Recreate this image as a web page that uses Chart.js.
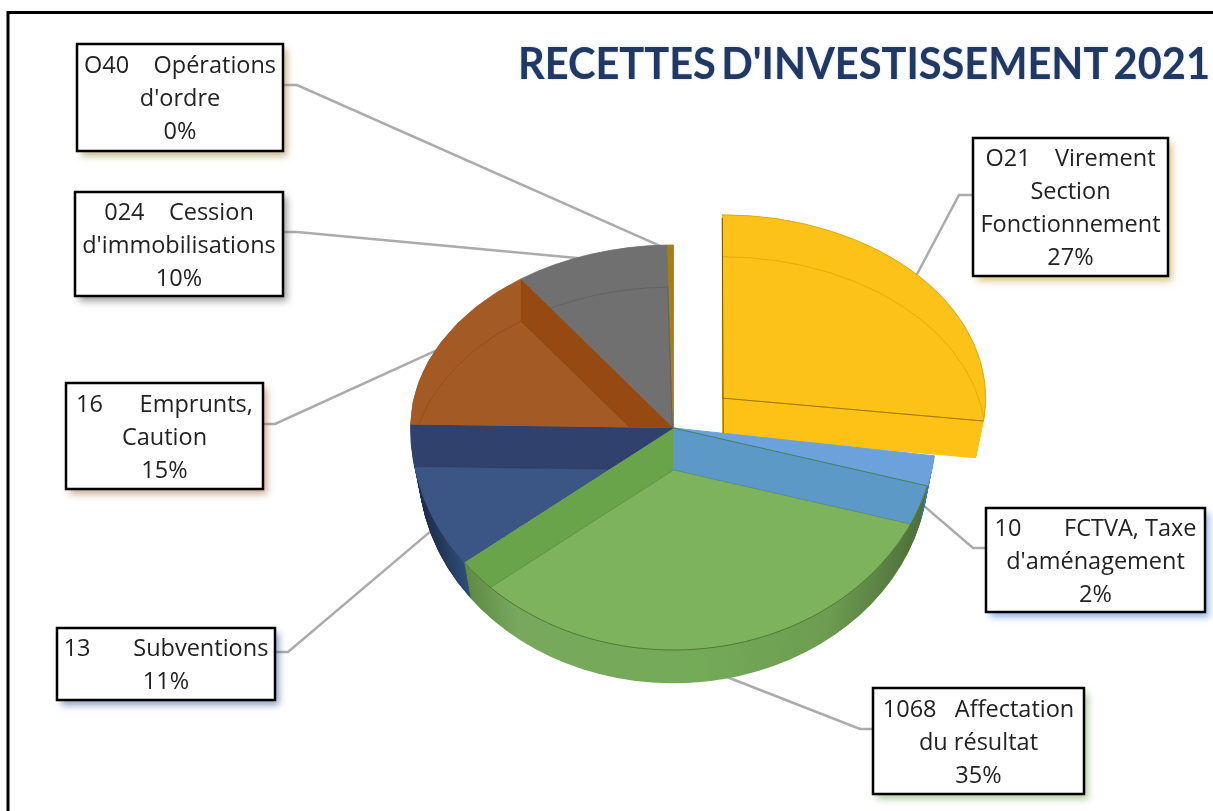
<!DOCTYPE html>
<html lang="fr">
<head>
<meta charset="utf-8">
<title>Recettes d'investissement 2021</title>
<script src="https://cdn.jsdelivr.net/npm/chart.js@4"></script>
<style>
html,body{margin:0;padding:0;background:#fff;overflow:hidden}
canvas{display:block;position:absolute;left:0;top:0}
</style>
</head>
<body>
<canvas id="c" width="1213" height="811"></canvas>
<script>
// ---- data ----
const chartTitle = "RECETTES D'INVESTISSEMENT 2021";
const categories = [
  "O21 Virement Section Fonctionnement",
  "10 FCTVA, Taxe d'aménagement",
  "1068 Affectation du résultat",
  "13 Subventions",
  "16 Emprunts, Caution",
  "024 Cession d'immobilisations",
  "O40 Opérations d'ordre"
];
const values = [27.0, 2.2, 35.45, 10.65, 14.85, 9.5, 0.35];
const percentLabels = ["27%", "2%", "35%", "11%", "15%", "10%", "0%"];
const labelLines = [
  ["O21    Virement", "Section", "Fonctionnement"],
  ["10       FCTVA, Taxe", "d'aménagement"],
  ["1068   Affectation", "du résultat"],
  ["13       Subventions"],
  ["16      Emprunts,", "Caution"],
  ["024    Cession", "d'immobilisations"],
  ["O40    Opérations", "d'ordre"]
];

// ---- styles ----
const faceLight = ["#FDC217", "#6CA2DC", "#7DB35C", "#3B5585", "#A45A25", "#707070", "#A6800F"];
const bandDark  = [null, null, "#69A44B", "#31416D", "#964A12", null, null];
const shadowTint = ["rgba(190,150,40,.55)", "rgba(70,130,210,.6)", "rgba(110,160,80,.55)", "rgba(50,80,140,.55)", "rgba(150,90,50,.5)", "rgba(90,90,90,.6)", "rgba(150,125,50,.55)"];
const boxes = [
  [973,138,1168,276,-1,959,195],
  [986,508,1205,612,-1,973,548],
  [873,688,1084,794,-1,860,729],
  [57,628,275,700,1,288,652],
  [66,383,263,489,1,275,424],
  [75,192,283,296,1,297,232],
  [77,44,283,151,1,297,85]
];
const S_TOP = 183/263, S_BOT = 222/263, DEPTH = 40, SHIFT = 42, TAPER = 0.03;
const W = 1213, H = 811;

function withOptions(arc, o, fn){
  const saved = arc.options;
  arc.options = Object.assign({}, saved, o);
  fn();
  arc.options = saved;
}
function halves(ctx, cx, cy, dy, k, fn){
  ctx.save();
  ctx.beginPath(); ctx.rect(0,0,W,cy+dy); ctx.clip();
  ctx.translate(cx,cy+dy); ctx.scale(k,k*S_TOP); ctx.translate(-cx,-cy);
  fn(); ctx.restore();
  ctx.save();
  ctx.beginPath(); ctx.rect(0,cy+dy,W,H); ctx.clip();
  ctx.translate(cx,cy+dy); ctx.scale(k,k*S_BOT); ctx.translate(-cx,-cy);
  fn(); ctx.restore();
}
function rimAt(arc,a){
  const s = Math.sin(a);
  return [arc.x+arc.outerRadius*Math.cos(a), arc.y+arc.outerRadius*s*(s<0?S_TOP:S_BOT)];
}
function facePath(arc){
  const p = new Path2D(), n = 80;
  p.moveTo(arc.x,arc.y);
  for(let i=0;i<=n;i++){
    const q = rimAt(arc, arc.startAngle+(arc.endAngle-arc.startAngle)*i/n);
    p.lineTo(q[0],q[1]);
  }
  p.closePath();
  return p;
}
function sweepBand(ctx, arc, angle, clipArc, color){
  const q = rimAt(arc, angle);
  ctx.save();
  ctx.clip(facePath(clipArc));
  ctx.fillStyle = color;
  ctx.beginPath();
  ctx.moveTo(arc.x,arc.y); ctx.lineTo(q[0],q[1]); ctx.lineTo(q[0],q[1]+SHIFT); ctx.lineTo(arc.x,arc.y+SHIFT);
  ctx.closePath(); ctx.fill();
  ctx.restore();
}
function leaderAnchor(arcs,i){
  const arc = arcs[i], mid = (arc.startAngle+arc.endAngle)/2, s = Math.sin(mid);
  const off = (arc.options.offset||0)/4, R = arc.outerRadius-8;
  const sy = (i===0)?S_TOP:(s<0?S_TOP:S_BOT);
  let x = arc.x+(off+R)*Math.cos(mid);
  let y = arc.y+(off+R)*s*sy;
  if(s>0.05) y += DEPTH-4;
  return [x,y];
}

const pie3d = {
  id:'pie3d',
  beforeDraw(chart){
    const ctx = chart.ctx;
    ctx.save();
    ctx.fillStyle='#fff'; ctx.fillRect(0,0,W,H);
    ctx.strokeStyle='#000'; ctx.lineWidth=3;
    ctx.beginPath(); ctx.moveTo(8,H+2); ctx.lineTo(8,12.5); ctx.lineTo(W+2,12.5); ctx.stroke();
    ctx.font='bold 43px Lato';
    ctx.wordSpacing='-5px';
    const tw = ctx.measureText(chartTitle).width;
    ctx.translate(518,79); ctx.scale(692/tw,1);
    ctx.fillStyle='#1F3864'; ctx.textBaseline='alphabetic';
    ctx.shadowColor='rgba(31,56,100,.3)'; ctx.shadowBlur=2;
    ctx.fillText(chartTitle,0,0);
    ctx.restore();
  },
  beforeDatasetDraw(){ return false; },
  afterDatasetsDraw(chart){
    const ctx = chart.ctx, arcs = chart.getDatasetMeta(0).data;
    const cx = arcs[0].x, cy = arcs[0].y;
    const noBorder = {borderWidth:0};
    // leader lines
    ctx.save();
    ctx.strokeStyle='#ABABAB'; ctx.lineWidth=2.5;
    boxes.forEach((b,i)=>{
      const p = leaderAnchor(arcs,i), edge = b[4]>0?b[2]:b[0];
      ctx.beginPath(); ctx.moveTo(edge,b[6]); ctx.lineTo(b[5],b[6]); ctx.lineTo(p[0],p[1]); ctx.stroke();
    });
    ctx.restore();

    // exploded slice
    const y0 = arcs[0], mid0 = (y0.startAngle+y0.endAngle)/2, off0 = y0.options.offset/4;
    const tx = Math.cos(mid0)*off0, ty = Math.sin(mid0)*off0;
    const frame = (dy,k)=>{ ctx.translate(cx+tx, cy+ty*S_TOP+dy); ctx.scale(k,k*S_TOP); ctx.translate(-(cx+tx),-(cy+ty)); };
    for(let s=DEPTH-2;s>=0;s--){
      ctx.save(); frame(s,1-TAPER*s/(DEPTH-2));
      withOptions(y0,Object.assign({},noBorder,{backgroundColor:faceLight[0]}),()=>y0.draw(ctx));
      ctx.restore();
    }
    ctx.save(); frame(0,1);
    withOptions(y0,{backgroundColor:faceLight[0],borderColor:'rgba(190,140,0,.6)',borderWidth:1},()=>y0.draw(ctx));
    // darker straight edge
    const ex = cx+tx+y0.outerRadius*Math.cos(y0.endAngle), ey = cy+ty+y0.outerRadius*Math.sin(y0.endAngle);
    ctx.strokeStyle='rgba(120,90,0,.75)'; ctx.lineWidth=1;
    ctx.beginPath(); ctx.moveTo(cx+tx,cy+ty); ctx.lineTo(ex,ey); ctx.stroke();
    ctx.beginPath(); ctx.moveTo(cx+tx,cy+ty); ctx.arc(cx+tx,cy+ty,y0.outerRadius,y0.startAngle,y0.endAngle); ctx.closePath(); ctx.clip();
    ctx.translate(0,SHIFT/S_TOP);
    withOptions(y0,{backgroundColor:'rgba(0,0,0,0)',borderColor:'rgba(190,140,0,.45)',borderWidth:1},()=>y0.draw(ctx));
    ctx.restore();
    ctx.save(); ctx.strokeStyle='rgba(90,70,0,.85)'; ctx.lineWidth=1;
    ctx.beginPath(); ctx.moveTo(cx+tx,cy+ty*S_TOP-180); ctx.lineTo(cx+tx+1,cy+ty*S_TOP+DEPTH-2); ctx.stroke(); ctx.restore();

    // walls of the pie
    const gx = cx-263, gw = 526;
    const mk = stops=>{ const g = ctx.createLinearGradient(gx,0,gx+gw,0); stops.forEach(st=>g.addColorStop(st[0],st[1])); return g; };
    const wallNavy  = mk([[0,'#1B2A45'],[.05,'#243758'],[.1,'#2F4B7A'],[1,'#2F4B7A']]);
    const wallGreen = mk([[0,'#5F8A48'],[.1,'#5D8A45'],[.2,'#78A85D'],[.55,'#74AB57'],[.8,'#6C9C50'],[.93,'#567A40'],[1,'#4C6B35']]);
    const wallBlue  = '#3F7CB8';
    [[3,wallNavy],[1,wallBlue],[2,wallGreen]].forEach(w=>{
      const a = arcs[w[0]];
      for(let s=DEPTH;s>=1;s--){
        halves(ctx,cx,cy,s,1-TAPER*s/DEPTH,()=>withOptions(a,Object.assign({},noBorder,{backgroundColor:w[1]}),()=>a.draw(ctx)));
      }
    });

    // top faces
    for(let i=1;i<arcs.length;i++){
      const a = arcs[i];
      halves(ctx,cx,cy,0,1,()=>withOptions(a,{backgroundColor:faceLight[i],borderColor:faceLight[i],borderWidth:1},()=>a.draw(ctx)));
    }
    // darker inner walls seen through the faces
    sweepBand(ctx, arcs[2], arcs[2].startAngle, arcs[2], '#5C99C6');
    [2,3,4].forEach(i=>sweepBand(ctx, arcs[i], arcs[i].endAngle, arcs[i], bandDark[i]));
    // faint outline of the lower face
    [5,4,3,2].forEach(i=>{
      const a = arcs[i];
      ctx.save(); ctx.clip(facePath(a));
      halves(ctx,cx,cy,SHIFT,1,()=>withOptions(a,{backgroundColor:'rgba(0,0,0,0)',borderColor:'rgba(0,0,0,.14)',borderWidth:1},()=>a.draw(ctx)));
      ctx.restore();
    });
    // rim and edge of the green face
    const ga = arcs[2];
    ctx.save(); ctx.strokeStyle='rgba(70,110,45,.85)'; ctx.lineWidth=1;
    ctx.beginPath();
    for(let i=0;i<=80;i++){
      const q = rimAt(ga, ga.startAngle+(ga.endAngle-ga.startAngle)*i/80);
      i?ctx.lineTo(q[0],q[1]):ctx.moveTo(q[0],q[1]);
    }
    ctx.stroke();
    const q0 = rimAt(ga, ga.startAngle);
    ctx.strokeStyle='rgba(50,115,110,.8)';
    ctx.beginPath(); ctx.moveTo(cx,cy); ctx.lineTo(q0[0],q0[1]); ctx.stroke();
    ctx.restore();

    // callouts
    boxes.forEach((b,i)=>{
      ctx.save();
      ctx.shadowColor = shadowTint[i]; ctx.shadowBlur = 7; ctx.shadowOffsetX = 4; ctx.shadowOffsetY = 5;
      ctx.fillStyle='#fff'; ctx.fillRect(b[0],b[1],b[2]-b[0],b[3]-b[1]);
      ctx.restore();
      ctx.save();
      ctx.strokeStyle='#000'; ctx.lineWidth=2.5; ctx.strokeRect(b[0],b[1],b[2]-b[0],b[3]-b[1]);
      ctx.fillStyle='#222'; ctx.font='23.5px "Open Sans"'; ctx.textAlign='center'; ctx.textBaseline='middle';
      const lines = labelLines[i].concat([percentLabels[i]]);
      const xc = (b[0]+b[2])/2, yc = (b[1]+b[3])/2+2;
      lines.forEach((t,j)=>ctx.fillText(t,xc,yc+(j-(lines.length-1)/2)*33));
      ctx.restore();
    });
  }
};

new Chart(document.getElementById('c'),{
  type:'pie',
  data:{labels:categories,datasets:[{
    data:values,
    backgroundColor:faceLight,
    borderWidth:0,
    radius:263,
    offset:[260,0,0,0,0,0,0]
  }]},
  options:{
    responsive:false,
    animation:false,
    events:[],
    layout:{padding:{left:134,top:45,right:0,bottom:0}},
    plugins:{legend:{display:false},title:{display:false},tooltip:{enabled:false}}
  },
  plugins:[pie3d]
});
</script>
</body>
</html>
